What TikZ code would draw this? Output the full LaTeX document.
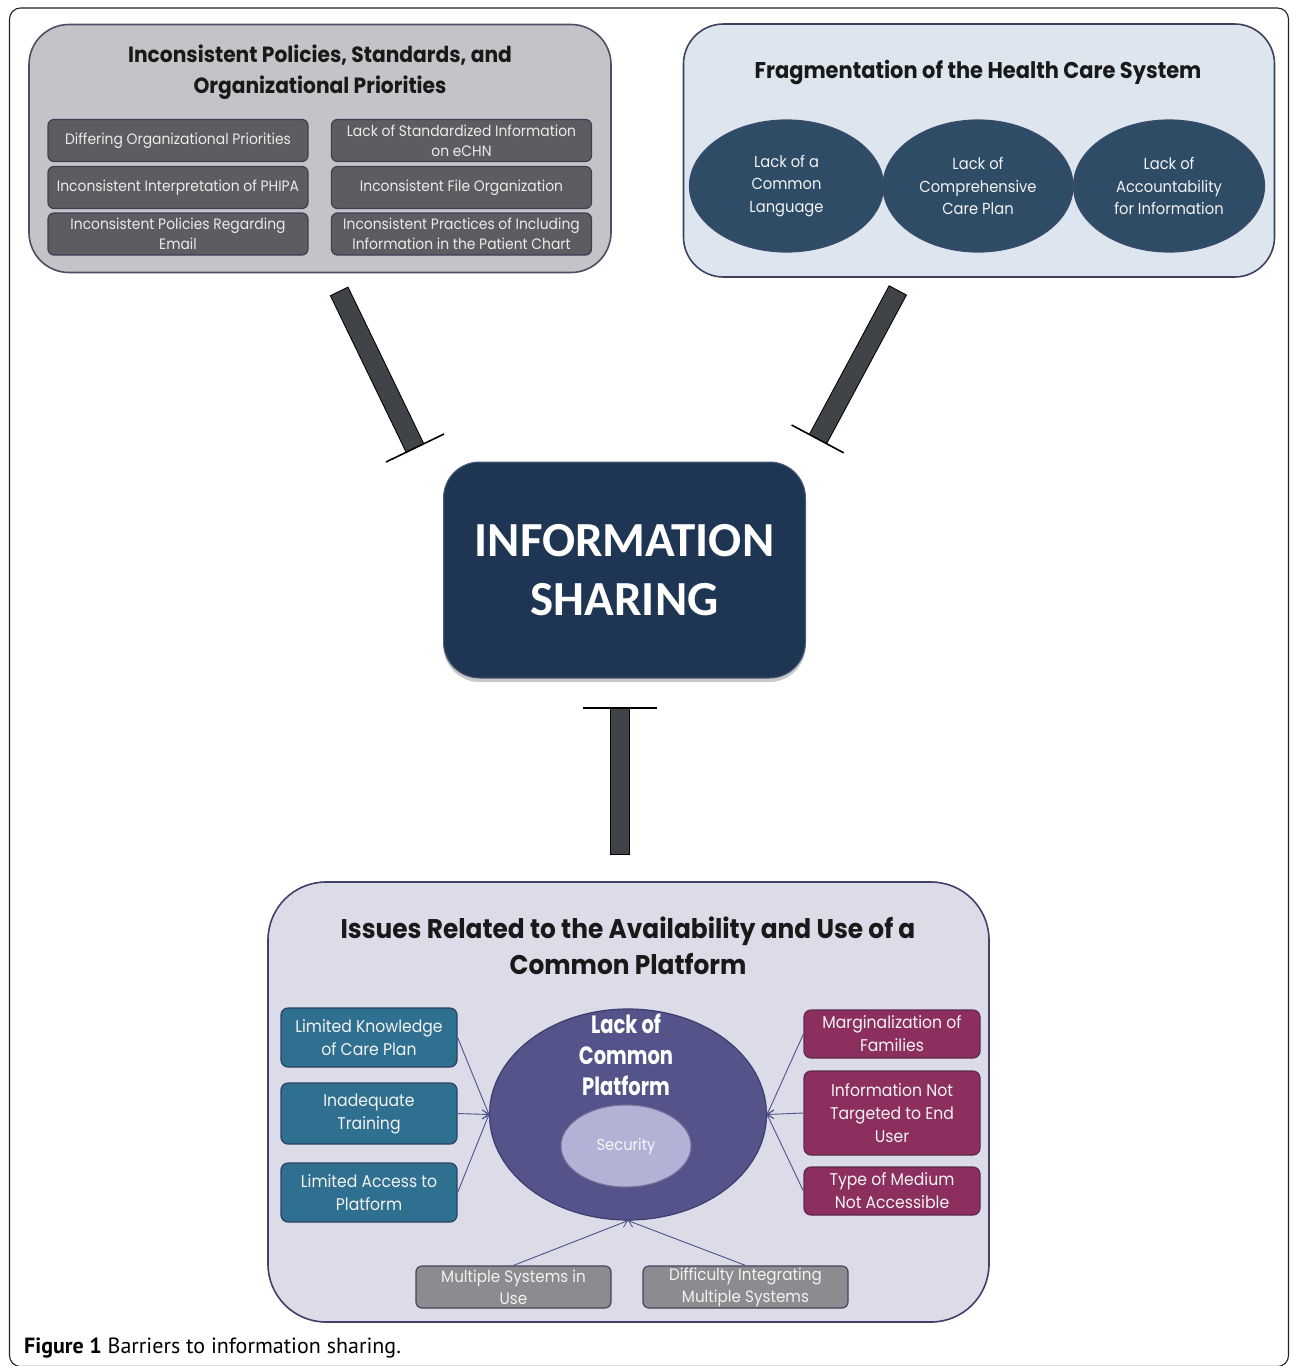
\documentclass[tikz,border=0pt]{standalone}
\usepackage{fontspec}
\setmainfont{Poppins}
\newfontfamily\fut[FakeStretch=0.92]{Poppins}
\newfontfamily\futc[FakeStretch=0.78]{Poppins}
\newfontfamily\calfont{Carlito}
\newfontfamily\capfont{PT Sans}
\usetikzlibrary{shapes.geometric,arrows.meta,shadows}
\definecolor{frameln}{HTML}{222222}
\definecolor{boxagray}{HTML}{C3C3C8}
\definecolor{boxaline}{HTML}{4E4E62}
\definecolor{gfill}{HTML}{5C5C61}
\definecolor{gline}{HTML}{3E3E56}
\definecolor{boxbfill}{HTML}{DDE6EE}
\definecolor{boxbline}{HTML}{40405E}
\definecolor{ellfill}{HTML}{2F4C66}
\definecolor{ellline}{HTML}{3A4A6C}
\definecolor{barfill}{HTML}{404448}
\definecolor{infofill}{HTML}{1E3554}
\definecolor{boxcfill}{HTML}{DCDCE8}
\definecolor{boxcline}{HTML}{40406A}
\definecolor{tealfill}{HTML}{2F6F8F}
\definecolor{tealline}{HTML}{2A4262}
\definecolor{magfill}{HTML}{8C2F5F}
\definecolor{magline}{HTML}{5C2A4C}
\definecolor{cpfill}{HTML}{54548A}
\definecolor{cpline}{HTML}{3C3C70}
\definecolor{secfill}{HTML}{B2B2D6}
\definecolor{bgfill}{HTML}{8C8C90}
\definecolor{bgline}{HTML}{44445C}
\definecolor{arrcol}{HTML}{50508A}
\tikzset{
  ttl/.style={align=center,inner sep=0pt,text=black!90},
  gbox/.style={draw=gline,fill=gfill,line width=1.2pt,rounded corners=6pt,
    minimum width=260pt,minimum height=42pt,inner sep=0pt,align=center,
    text=white!92!black,font={\fut\fontsize{15.1}{20}\selectfont}},
  ellnode/.style={ellipse,draw=ellline,fill=ellfill,line width=1.2pt,
    minimum height=132pt,inner sep=0pt,align=center,text=white!95!black,
    font={\fut\fontsize{16}{22.5}\selectfont}},
  sidebox/.style={draw,line width=1.2pt,rounded corners=7pt,minimum width=176pt,
    inner sep=0pt,align=center,text=white!95!black,
    font={\fut\fontsize{17}{23}\selectfont}},
  tealbox/.style={sidebox,draw=tealline,fill=tealfill},
  magbox/.style={sidebox,draw=magline,fill=magfill},
  botbox/.style={draw=bgline,fill=bgfill,line width=1.2pt,rounded corners=6pt,
    minimum height=42pt,inner sep=0pt,align=center,text=white!95!black,
    font={\fut\fontsize{16.5}{22}\selectfont}},
  arr/.style={draw=arrcol,line width=0.9pt,-{Straight Barb[length=6pt,width=9pt,line width=0.8pt]}},
  barout/.style={draw=black,line width=20.5pt,line cap=butt},
  barin/.style={draw=barfill,line width=18.5pt,line cap=butt,shorten <=1pt},
  tbar/.style={draw=black,line width=1.6pt,line cap=butt}
}
\begin{document}
\begin{tikzpicture}[x=1pt,y=-1pt]
\useasboundingbox (0,0) rectangle (1290,1366);
\fill[white] (0,0) rectangle (1290,1366);
% outer frame
\draw[frameln,line width=1.1pt,rounded corners=11pt] (9.5,8) rectangle (1288.5,1366.5);

% ---- box A ----
\node[draw=boxaline,fill=boxagray,line width=1.6pt,rounded corners=40pt,
  minimum width=582pt,minimum height=248pt,inner sep=0pt] (BA) at (320,148.5) {};
\node[ttl,font={\fut\bfseries\fontsize{22}{31}\selectfont}] (tA) at (320,72)
  {Inconsistent Policies, Standards, and\\Organizational Priorities};
\node[gbox] (g1) at (178,140.5) {Differing Organizational Priorities};
\node[gbox] (g2) at (178,187.5) {Inconsistent Interpretation of PHIPA};
\node[gbox] (g3) at (178,234) {Inconsistent Policies Regarding\\Email};
\node[gbox] (g4) at (461.5,140.5) {Lack of Standardized Information\\on eCHN};
\node[gbox] (g5) at (461.5,187.5) {Inconsistent File Organization};
\node[gbox] (g6) at (461.5,234) {Inconsistent Practices of Including\\Information in the Patient Chart};

% ---- box B ----
\node[draw=boxbline,fill=boxbfill,line width=1.6pt,rounded corners=40pt,
  minimum width=591pt,minimum height=253pt,inner sep=0pt] (BB) at (979,150.5) {};
\node[ttl,font={\fut\bfseries\fontsize{22.8}{30}\selectfont}] (tB) at (978,72)
  {Fragmentation of the Health Care System};
\node[ellnode,minimum width=194pt] (e1) at (786.5,186) {Lack of a\\Common\\Language};
\node[ellnode,minimum width=190pt] (e2) at (978,186) {Lack of\\Comprehensive\\Care Plan};
\node[ellnode,minimum width=191pt] (e3) at (1169,186) {Lack of\\Accountability\\for Information};

% ---- central box ----
\node[fill=infofill,draw=infofill!80!white,line width=1pt,rounded corners=36pt,
  minimum width=362pt,minimum height=216pt,inner sep=0pt,align=center,text=white,
  font={\calfont\bfseries\fontsize{49}{59}\selectfont},
  drop shadow={shadow xshift=0pt,shadow yshift=-4pt,opacity=0.35,fill=black!60}]
  (info) at (624.5,570) {INFORMATION\\SHARING};

% ---- inhibition bars ----
\coordinate (b1s) at (339,291); \coordinate (b1e) at (415,448);
\coordinate (t1a) at (386,462); \coordinate (t1b) at (444,434);
\draw[barout] (b1s) -- (b1e); \draw[barin] (b1s) -- (b1e);
\draw[tbar] (t1a) -- (t1b);
\coordinate (b2s) at (898,290); \coordinate (b2e) at (818,439);
\coordinate (t2a) at (791.6,425); \coordinate (t2b) at (843.6,452.8);
\draw[barout] (b2s) -- (b2e); \draw[barin] (b2s) -- (b2e);
\draw[tbar] (t2a) -- (t2b);
\coordinate (b3s) at (620,855); \coordinate (b3e) at (620,708);
\coordinate (t3a) at (583,708); \coordinate (t3b) at (657,708);
\draw[barout] (b3s) -- (b3e); \draw[barin] (b3s) -- (b3e);
\draw[tbar] (t3a) -- (t3b);

% ---- box C ----
\node[draw=boxcline,fill=boxcfill,line width=1.6pt,rounded corners=58pt,
  minimum width=721pt,minimum height=440pt,inner sep=0pt] (BC) at (628.5,1102) {};
\node[ttl,font={\fut\bfseries\fontsize{27}{36}\selectfont}] (tC) at (628,945.5)
  {Issues Related to the Availability and Use of a\\Common Platform};

\node[ellipse,draw=cpline,fill=cpfill,line width=1.2pt,minimum width=277pt,
  minimum height=211pt,inner sep=0pt] (cp) at (628,1114.5) {};
\node[ttl,text=white,font={\futc\bfseries\fontsize{25}{31}\selectfont}] (cpt) at (626,1055)
  {Lack of\\Common\\Platform};
\node[ellipse,draw=cpline!70!white,fill=secfill,line width=1pt,minimum width=130pt,
  minimum height=82pt,inner sep=0pt,text=white!88!secfill,
  font={\fut\fontsize{16}{20}\selectfont}] (sec) at (626,1146) {Security};

\node[tealbox,minimum height=59pt] (lk) at (369,1037.5) {Limited Knowledge\\of Care Plan};
\node[tealbox,minimum height=61pt] (it) at (369,1113.5) {Inadequate\\Training};
\node[tealbox,minimum height=59pt] (la) at (369,1192.5) {Limited Access to\\Platform};

\node[magbox,minimum height=48pt] (mf) at (892,1034) {Marginalization of\\Families};
\node[magbox,minimum height=84pt] (in) at (892,1113) {Information Not\\Targeted to End\\User};
\node[magbox,minimum height=48pt] (tm) at (892,1191) {Type of Medium\\Not Accessible};

\node[botbox,minimum width=195pt] (ms) at (513.5,1287) {Multiple Systems in\\Use};
\node[botbox,minimum width=205pt] (di) at (745.5,1287) {Difficulty Integrating\\Multiple Systems};

\draw[arr] (lk.east) -- (cp.west);
\draw[arr] (it.east) -- (cp.west);
\draw[arr] (la.east) -- (cp.west);
\draw[arr] (mf.west) -- (cp.east);
\draw[arr] (in.west) -- (cp.east);
\draw[arr] (tm.west) -- (cp.east);
\draw[arr] (ms.north) -- (cp.south);
\draw[arr] (di.north) -- (cp.south);

% ---- caption ----
\node[anchor=west,inner sep=0pt,font={\capfont\fontsize{22}{26}\selectfont}] (cap) at (24,1348)
  {\textbf{Figure 1} Barriers to information sharing.};
\end{tikzpicture}
\end{document}
